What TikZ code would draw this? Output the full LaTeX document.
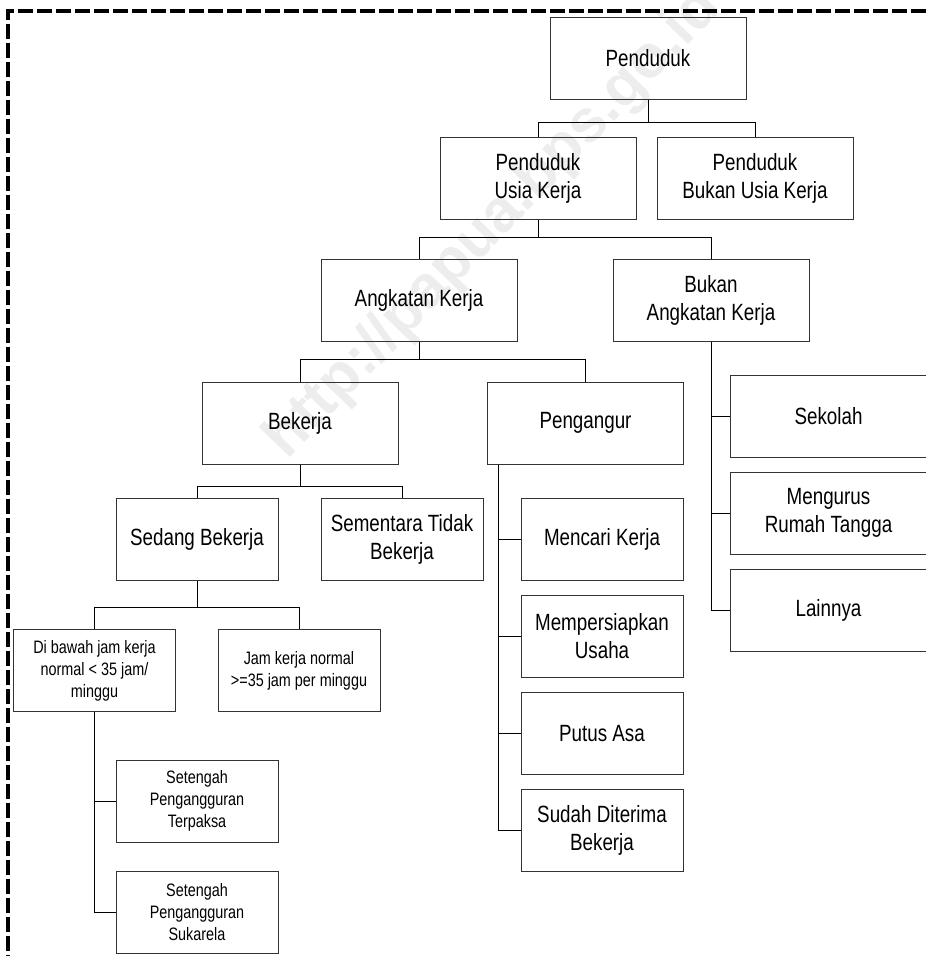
\documentclass[tikz,border=0pt]{standalone}
\usepackage{fontspec}
\setmainfont{Liberation Sans}[FakeStretch=0.8]
\newfontfamily\markfont{Liberation Sans}
\usetikzlibrary{positioning}

\begin{document}
\begin{tikzpicture}[
        x=1pt, y=-1pt,
        box/.style   = {draw=black!80, line width=1pt, align=center, inner sep=1pt,
                        minimum width=196pt, minimum height=82pt,
                        font=\fontsize{23.5}{28}\selectfont},
        sbox/.style  = {box, minimum width=162pt},
        tiny/.style  = {sbox, font=\fontsize{18}{22}\selectfont},
        link/.style  = {draw=black, line width=0.9pt},
        frame/.style = {line width=4pt, dash pattern=on 15pt off 4pt},
        wmark/.style = {rotate=46, text=black!7, font=\markfont\bfseries\fontsize{60}{60}\selectfont},
        node distance = 14pt
    ]
    \useasboundingbox (0,0) rectangle (926,956);
    \clip (0,0) rectangle (926,956);

    % watermark
    \node[wmark] (wm) at (494,224) {http://papua.bps.go.id};

    % border
    \draw[frame] (8,970) -- (8,11) -- (940,11);

    % levels
    \node[box]  (pend) at (648,58)    {Penduduk};
    \node[box]  (puk)  at (538,178)   {Penduduk\\Usia Kerja};
    \node[box]  (pbuk) at (755,178)   {Penduduk\\Bukan Usia Kerja};
    \node[box]  (ak)   at (419,300.5) {Angkatan Kerja};
    \node[box]  (bak)  at (711,300.5) {Bukan\\Angkatan Kerja};
    \node[box]  (bkj)  at (300,423)   {Bekerja};
    \node[box]  (pgr)  at (585.5,423) {Pengangur};
    \node[sbox] (sdb)  at (197,539.5) {Sedang Bekerja};
    \node[sbox] (stb)  at (402,539.5) {Sementara Tidak\\Bekerja};
    \node[tiny] (dbj)  at (94.5,670.5) {Di bawah jam kerja\\normal < 35 jam/\\minggu};
    \node[tiny] (jkn)  at (299,670.5) {Jam kerja normal\\>=35 jam per minggu};
    \node[tiny] (stp)  at (197,801)   {Setengah\\Pengangguran\\Terpaksa};
    \node[tiny, below=28pt of stp] (sts) {Setengah\\Pengangguran\\Sukarela};

    % pengangur
    \node[sbox] (mck) at (602,539.5) {Mencari Kerja};
    \node[sbox, below=of mck] (mpu) {Mempersiapkan\\Usaha};
    \node[sbox, below=of mpu] (pas) {Putus Asa};
    \node[sbox, below=of pas] (sdk) {Sudah Diterima\\Bekerja};

    % bukan angkatan kerja
    \node[box] (skl) at (828.5,416) {Sekolah};
    \node[box, below=of skl] (mrt) {Mengurus\\Rumah Tangga};
    \node[box, below=of mrt] (lny) {Lainnya};

    % connectors
    \draw[link] (pend.south) -- ++(0,23) -| (puk.north);
    \draw[link] (pend.south) -- ++(0,23) -| (pbuk.north);
    \draw[link] (puk.south) -- ++(0,18) -| (ak.north);
    \draw[link] (puk.south) -- ++(0,18) -| (bak.north);
    \draw[link] (ak.south) -- ++(0,17) -| (bkj.north);
    \draw[link] (ak.south) -- ++(0,17) -| (pgr.north);
    \draw[link] (bkj.south) -- ++(0,22) -| (sdb.north);
    \draw[link] (bkj.south) -- ++(0,22) -| (stb.north);
    \draw[link] (sdb.south) -- ++(0,26) -| (dbj.north);
    \draw[link] (sdb.south) -- ++(0,26) -| (jkn.north);
    \draw[link] (dbj.south) |- (stp.west);
    \draw[link] (dbj.south) |- (sts.west);
    \foreach \n in {mck,mpu,pas,sdk}
        \draw[link] ([xshift=11pt]pgr.south west) |- (\n.west);
    \foreach \n in {skl,mrt,lny}
        \draw[link] (bak.south) |- (\n.west);
\end{tikzpicture}
\end{document}
